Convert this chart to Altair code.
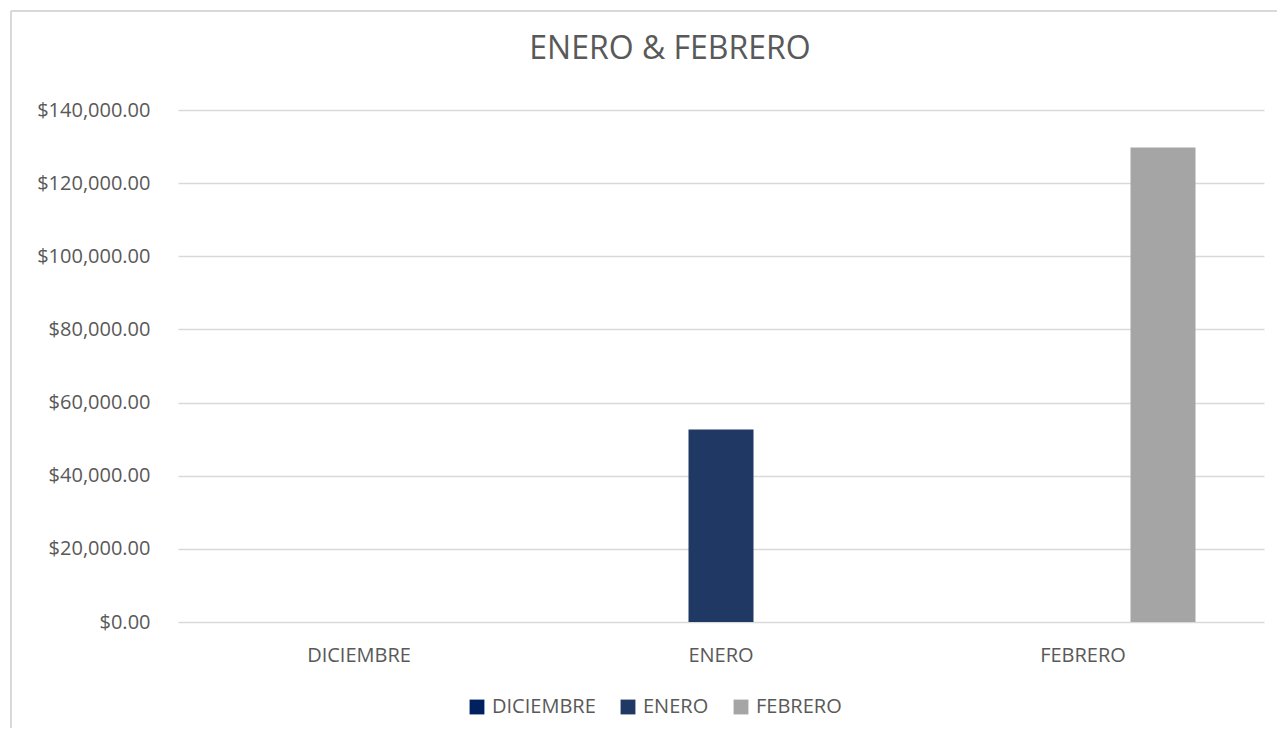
import altair as alt
import pandas as pd

months = ["DICIEMBRE", "ENERO", "FEBRERO"]
series = ["DICIEMBRE", "ENERO", "FEBRERO"]
colors = ["#002060", "#203864", "#A5A5A5"]
bar_month = ["DICIEMBRE", "ENERO", "FEBRERO"]
bar_series = ["DICIEMBRE", "ENERO", "FEBRERO"]
bar_value = [0, 52650, 129750]
y_ticks = [0, 20000, 40000, 60000, 80000, 100000, 120000, 140000]
title_text = "ENERO & FEBRERO"

df = pd.DataFrame({"mes": bar_month, "serie": bar_series, "valor": bar_value})

FONT = "Open Sans"
GREY = "#595959"
LINE = "#D9D9D9"

bars = alt.Chart(df).mark_bar().encode(
    x=alt.X("mes:N", sort=months, title=None,
            scale=alt.Scale(domain=months, paddingInner=0.337, paddingOuter=0.1685),
            axis=alt.Axis(domain=False, ticks=False, labelAngle=0, labelPadding=23,
                          labelFontSize=20, labelColor=GREY, labelFont=FONT)),
    xOffset=alt.XOffset("serie:N",
                        scale=alt.Scale(domain=series, paddingInner=0.1875, paddingOuter=0.09375)),
    y=alt.Y("valor:Q", title=None,
            scale=alt.Scale(domain=[0, 140000], nice=False),
            axis=alt.Axis(values=y_ticks, format="$,.2f", domain=False, ticks=False,
                          grid=True, gridColor=LINE, gridWidth=1.5, labelPadding=28,
                          labelFontSize=20, labelColor=GREY, labelFont=FONT)),
    color=alt.Color("serie:N", scale=alt.Scale(domain=series, range=colors),
                    legend=alt.Legend(title=None, orient="none", direction="horizontal",
                                      legendX=289, legendY=587, symbolType="square",
                                      symbolSize=220, symbolStrokeWidth=0,
                                      labelFontSize=20, labelColor=GREY, labelFont=FONT,
                                      columnPadding=22, labelOffset=5)),
)

one = alt.Data(values=[{"a": 1}])

border = alt.Chart(one).mark_rule(color=LINE, strokeWidth=2).encode(
    x=alt.value(-167), y=alt.value(-99), y2=alt.value(660)
)
border_top = alt.Chart(one).mark_rule(color=LINE, strokeWidth=2).encode(
    x=alt.value(-167), x2=alt.value(1120), y=alt.value(-99)
)
title = alt.Chart(one).mark_text(
    text=title_text, fontSize=32, font=FONT, color=GREY, align="center", baseline="alphabetic"
).encode(x=alt.value(492), y=alt.value(-51))

chart = alt.layer(border, border_top, title, bars).properties(
    width=1086,
    height=512,
    autosize=alt.AutoSizeParams(type="none"),
    padding={"left": 170, "top": 102, "right": 13, "bottom": 106},
).configure_view(strokeWidth=0)

chart.save("out.html", embed_options={"renderer": "svg", "actions": False})
